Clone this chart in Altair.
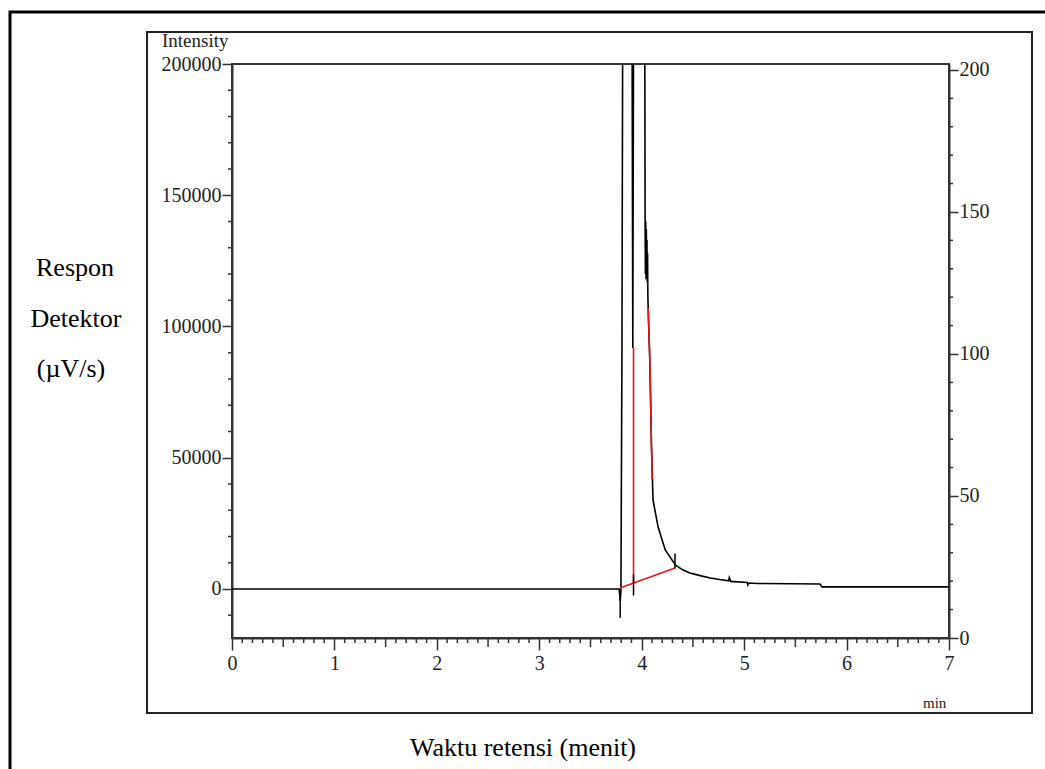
import altair as alt
import pandas as pd

# Chromatogram trace: retention time (min) and detector response (uV/s)
time_min = [0.0, 3.78, 3.79, 3.797, 3.807, 3.817, 3.903, 3.913, 3.923, 4.028,
            4.033, 4.036, 4.039, 4.042, 4.045, 4.048, 4.051, 4.054, 4.057, 4.060,
            4.063, 4.08, 4.095, 4.10, 4.11, 4.16, 4.23, 4.33, 4.40, 4.47,
            4.58, 4.67, 4.76, 4.85, 4.855, 4.87, 5.03, 5.035, 5.05, 5.13,
            5.74, 5.76, 7.0]
response = [0, 0, -4500, -1000, 90000, 260000, 260000, 91800, 260000, 260000,
            143000, 120000, 140000, 118000, 137000, 121000, 133000, 117000, 128000, 112000,
            107000, 86000, 55000, 49000, 34000, 23600, 14900, 9100, 7300, 6100,
            5000, 4200, 3600, 3100, 4300, 2900, 2500, 1500, 2300, 2100,
            1900, 800, 800]

# Integration baseline and drop lines (red)
red_segment = ["base", "base", "drop1", "drop1", "drop2", "drop2", "drop2", "drop2"]
red_time = [3.788, 4.325, 3.92, 3.92, 4.063, 4.08, 4.095, 4.102]
red_response = [400, 8000, 2270, 91800, 107000, 86000, 55000, 42000]

# Peak start / end markers
marker_time = [3.79, 3.92, 4.325]
marker_low = [-11000, -2500, 7800]
marker_high = [-3000, 5500, 13500]

# Axis ticks
x_major = [0, 1, 2, 3, 4, 5, 6, 7]
x_half = [0.5, 1.5, 2.5, 3.5, 4.5, 5.5, 6.5]
x_minor = [round(i * 0.1, 1) for i in range(71) if i % 5 != 0]
left_major = [0, 50000, 100000, 150000, 200000]
left_minor = [v for v in range(-10000, 200001, 10000) if v % 50000 != 0]
right_major = [0, 50, 100, 150, 200]
right_minor = [v for v in range(10, 201, 10) if v % 50 != 0]

W, H = 717, 574
X_DOMAIN = [0, 7]
LEFT_DOMAIN = [-18667, 200000]
RIGHT_DOMAIN = [0, 202.1]
FONT = "Liberation Serif"
INK = "#222222"

xs = alt.Scale(domain=X_DOMAIN, nice=False, zero=False)
ls = alt.Scale(domain=LEFT_DOMAIN, nice=False, zero=False)
rs = alt.Scale(domain=RIGHT_DOMAIN, nice=False, zero=False)

# Shared axis definitions so every layer agrees on them
x_axis = alt.Axis(values=x_major, tickSize=12, labelPadding=3, format="d",
                  title=None, grid=False, labelFlush=False)
left_axis = alt.Axis(values=left_major, tickSize=10, labelPadding=1, format="d",
                     title=None, grid=False, labelFlush=False)
right_axis = alt.Axis(orient="right", values=right_major, tickSize=9, labelPadding=1,
                      format="d", title=None, grid=False, labelFlush=False)

trace_df = pd.DataFrame({"t": time_min, "v": response})
red_df = pd.DataFrame({"seg": red_segment, "t": red_time, "v": red_response})
marker_df = pd.DataFrame({"t": marker_time, "lo": marker_low, "hi": marker_high})
one = alt.Data(values=[{}])

trace = alt.Chart(trace_df).mark_line(color="black", strokeWidth=1.6, clip=True).encode(
    x=alt.X("t:Q", scale=xs, axis=x_axis),
    y=alt.Y("v:Q", scale=ls, axis=left_axis),
    order="t:Q",
)

red = alt.Chart(red_df).mark_line(color="#e8141b", strokeWidth=1.6, clip=True).encode(
    x=alt.X("t:Q", scale=xs, axis=x_axis),
    y=alt.Y("v:Q", scale=ls, axis=left_axis),
    detail="seg:N",
)

markers = alt.Chart(marker_df).mark_rule(color="black", strokeWidth=1.5).encode(
    x=alt.X("t:Q", scale=xs, axis=x_axis),
    y=alt.Y("lo:Q", scale=ls, axis=left_axis),
    y2="hi:Q",
)


def x_ticks(values, length):
    return alt.Chart(pd.DataFrame({"t": values})).mark_rule(color="#333333", strokeWidth=1.5).encode(
        x=alt.X("t:Q", scale=xs, axis=x_axis),
        y=alt.value(H),
        y2=alt.value(H + length),
    )


left_ticks = alt.Chart(pd.DataFrame({"v": left_minor})).mark_rule(color="#333333", strokeWidth=1.5).encode(
    y=alt.Y("v:Q", scale=ls, axis=left_axis),
    x=alt.value(0),
    x2=alt.value(-4),
)

right_ticks = alt.Chart(pd.DataFrame({"v": right_minor})).mark_rule(color="#333333", strokeWidth=1.5).encode(
    y=alt.Y("v:Q", scale=rs, axis=right_axis),
    x=alt.value(W),
    x2=alt.value(W + 4),
)


def label(text, x, y, size, align="center", color="black"):
    return alt.Chart(one).mark_text(
        text=text, font=FONT, fontSize=size, align=align, baseline="alphabetic", color=color
    ).encode(x=alt.value(x), y=alt.value(y))


texts = [
    label("Intensity", -70, -17, 19, align="left", color=INK),
    label("min", 691, 644, 15, align="left", color=INK),
    label("Respon", -157, 212, 26),
    label("Detektor", -156, 263, 26),
    label("(\u00b5V/s)", -161, 313, 26),
    label("Waktu retensi (menit)", 291, 692, 26),
]

inner_frame = alt.Chart(one).mark_rect(fillOpacity=0, stroke="#222222", strokeWidth=2).encode(
    x=alt.value(-85), x2=alt.value(800), y=alt.value(-32), y2=alt.value(649)
)
outer_frame = alt.Chart(one).mark_rect(fillOpacity=0, stroke="black", strokeWidth=3).encode(
    x=alt.value(-222), x2=alt.value(830), y=alt.value(-52), y2=alt.value(720)
)

left_group = alt.layer(
    outer_frame, inner_frame,
    x_ticks(x_minor, 5), x_ticks(x_half, 9),
    left_ticks, trace, red, markers, *texts,
)

chart = alt.layer(left_group, right_ticks).resolve_scale(y="independent").properties(
    width=W,
    height=H,
    background="white",
    autosize=alt.AutoSizeParams(type="none"),
    padding={"left": 232, "top": 64, "right": 96, "bottom": 131},
).configure_view(
    stroke="#333333", strokeWidth=2
).configure_axis(
    labelFont=FONT, labelFontSize=20, labelColor=INK,
    domainColor="#333333", domainWidth=2, tickColor="#333333", tickWidth=1.5,
)

chart.save("out.html", embed_options={"renderer": "svg", "actions": False})
